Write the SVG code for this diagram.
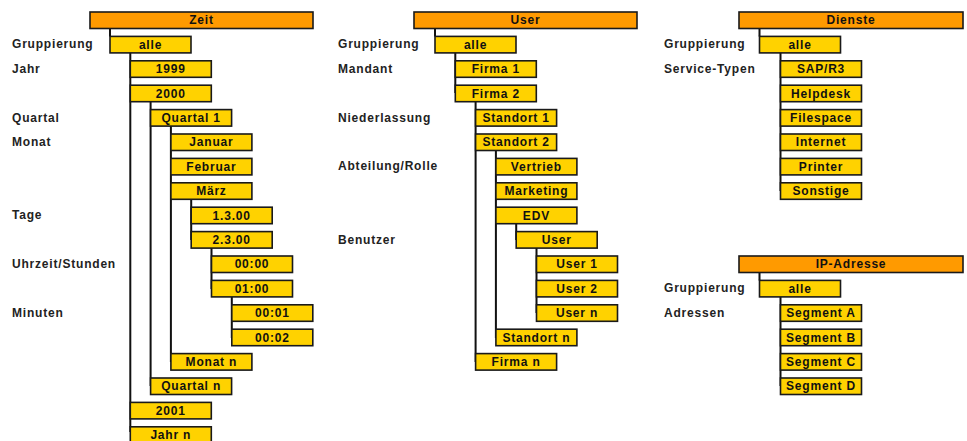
<svg xmlns="http://www.w3.org/2000/svg" width="967" height="441" viewBox="0 0 967 441">
<style>
.b{fill:#FFD200;stroke:#1a1a1a;stroke-width:1.6}
.h{fill:#FF9A00;stroke:#1a1a1a;stroke-width:1.6}
.t{font-family:"Liberation Sans",Arial,sans-serif;font-weight:bold;font-size:12px;letter-spacing:0.8px;fill:#111;text-anchor:middle}
.l{font-family:"Liberation Sans",Arial,sans-serif;font-weight:bold;font-size:12px;letter-spacing:0.8px;fill:#222}
.c{stroke:#111;stroke-width:2;fill:none}
</style>
<rect width="967" height="441" fill="#fff"/>
<g id="connectors">
<path class="c" d="M110,28.5V36.4 M130.3,52.9V432 M150.6,101.7V386 M170.9,126.1V362 M191.2,199.3V240 M211.5,248.1V289 M231.8,296.9V338"/>
<path class="c" d="M435,28.5V36.4 M455.3,52.9V93 M475.6,101.7V362 M495.9,150.5V338 M516.2,223.7V240 M536.5,248.1V313"/>
<path class="c" d="M759.5,28.5V36.4 M780.5,52.9V191 M759.5,272.5V280.4 M780.5,296.9V386"/>
</g>
<g id="labels">
<text class="l" x="12" y="48.4">Gruppierung</text>
<text class="l" x="12" y="72.8">Jahr</text>
<text class="l" x="12" y="121.6">Quartal</text>
<text class="l" x="12" y="146">Monat</text>
<text class="l" x="12" y="219.2">Tage</text>
<text class="l" x="12" y="268">Uhrzeit/Stunden</text>
<text class="l" x="12" y="316.8">Minuten</text>
<text class="l" x="338" y="48.4">Gruppierung</text>
<text class="l" x="338" y="72.8">Mandant</text>
<text class="l" x="338" y="121.6">Niederlassung</text>
<text class="l" x="338" y="170.4">Abteilung/Rolle</text>
<text class="l" x="338" y="243.6">Benutzer</text>
<text class="l" x="664" y="48.4">Gruppierung</text>
<text class="l" x="664" y="72.8">Service-Typen</text>
<text class="l" x="664" y="292.4">Gruppierung</text>
<text class="l" x="664" y="316.8">Adressen</text>
</g>
<g id="zeit"><rect class="h" x="90" y="12" width="223" height="16.5"/><text class="t" x="201.5" y="24.4">Zeit</text></g>
<g id="zeit-alle"><rect class="b" x="110" y="36.4" width="81" height="16.5"/><text class="t" x="150.5" y="48.8">alle</text></g>
<g id="z1999"><rect class="b" x="130.3" y="60.8" width="81" height="16.5"/><text class="t" x="170.8" y="73.2">1999</text></g>
<g id="z2000"><rect class="b" x="130.3" y="85.2" width="81" height="16.5"/><text class="t" x="170.8" y="97.6">2000</text></g>
<g id="quartal1"><rect class="b" x="150.6" y="109.6" width="81" height="16.5"/><text class="t" x="191.1" y="122">Quartal 1</text></g>
<g id="januar"><rect class="b" x="170.9" y="134" width="81" height="16.5"/><text class="t" x="211.4" y="146.4">Januar</text></g>
<g id="februar"><rect class="b" x="170.9" y="158.4" width="81" height="16.5"/><text class="t" x="211.4" y="170.8">Februar</text></g>
<g id="maerz"><rect class="b" x="170.9" y="182.8" width="81" height="16.5"/><text class="t" x="211.4" y="195.2">März</text></g>
<g id="d1300"><rect class="b" x="191.2" y="207.2" width="81" height="16.5"/><text class="t" x="231.7" y="219.6">1.3.00</text></g>
<g id="d2300"><rect class="b" x="191.2" y="231.6" width="81" height="16.5"/><text class="t" x="231.7" y="244">2.3.00</text></g>
<g id="h0000"><rect class="b" x="211.5" y="256" width="81" height="16.5"/><text class="t" x="252" y="268.4">00:00</text></g>
<g id="h0100"><rect class="b" x="211.5" y="280.4" width="81" height="16.5"/><text class="t" x="252" y="292.8">01:00</text></g>
<g id="m0001"><rect class="b" x="231.8" y="304.8" width="81" height="16.5"/><text class="t" x="272.3" y="317.2">00:01</text></g>
<g id="m0002"><rect class="b" x="231.8" y="329.2" width="81" height="16.5"/><text class="t" x="272.3" y="341.6">00:02</text></g>
<g id="monatn"><rect class="b" x="170.9" y="353.6" width="81" height="16.5"/><text class="t" x="211.4" y="366">Monat n</text></g>
<g id="quartaln"><rect class="b" x="150.6" y="378" width="81" height="16.5"/><text class="t" x="191.1" y="390.4">Quartal n</text></g>
<g id="z2001"><rect class="b" x="130.3" y="402.4" width="81" height="16.5"/><text class="t" x="170.8" y="414.8">2001</text></g>
<g id="jahrn"><rect class="b" x="130.3" y="426.8" width="81" height="16.5"/><text class="t" x="170.8" y="439.2">Jahr n</text></g>

<g id="user"><rect class="h" x="414" y="12" width="223" height="16.5"/><text class="t" x="525.5" y="24.4">User</text></g>
<g id="user-alle"><rect class="b" x="435" y="36.4" width="81" height="16.5"/><text class="t" x="475.5" y="48.8">alle</text></g>
<g id="firma1"><rect class="b" x="455.3" y="60.8" width="81" height="16.5"/><text class="t" x="495.8" y="73.2">Firma 1</text></g>
<g id="firma2"><rect class="b" x="455.3" y="85.2" width="81" height="16.5"/><text class="t" x="495.8" y="97.6">Firma 2</text></g>
<g id="standort1"><rect class="b" x="475.6" y="109.6" width="81" height="16.5"/><text class="t" x="516.1" y="122">Standort 1</text></g>
<g id="standort2"><rect class="b" x="475.6" y="134" width="81" height="16.5"/><text class="t" x="516.1" y="146.4">Standort 2</text></g>
<g id="vertrieb"><rect class="b" x="495.9" y="158.4" width="81" height="16.5"/><text class="t" x="536.4" y="170.8">Vertrieb</text></g>
<g id="marketing"><rect class="b" x="495.9" y="182.8" width="81" height="16.5"/><text class="t" x="536.4" y="195.2">Marketing</text></g>
<g id="edv"><rect class="b" x="495.9" y="207.2" width="81" height="16.5"/><text class="t" x="536.4" y="219.6">EDV</text></g>
<g id="usergrp"><rect class="b" x="516.2" y="231.6" width="81" height="16.5"/><text class="t" x="556.7" y="244">User</text></g>
<g id="user1"><rect class="b" x="536.5" y="256" width="81" height="16.5"/><text class="t" x="577" y="268.4">User 1</text></g>
<g id="user2"><rect class="b" x="536.5" y="280.4" width="81" height="16.5"/><text class="t" x="577" y="292.8">User 2</text></g>
<g id="usern"><rect class="b" x="536.5" y="304.8" width="81" height="16.5"/><text class="t" x="577" y="317.2">User n</text></g>
<g id="standortn"><rect class="b" x="495.9" y="329.2" width="81" height="16.5"/><text class="t" x="536.4" y="341.6">Standort n</text></g>
<g id="firman"><rect class="b" x="475.6" y="353.6" width="81" height="16.5"/><text class="t" x="516.1" y="366">Firma n</text></g>

<g id="dienste"><rect class="h" x="739" y="12" width="224" height="16.5"/><text class="t" x="851" y="24.4">Dienste</text></g>
<g id="dienste-alle"><rect class="b" x="759.5" y="36.4" width="81" height="16.5"/><text class="t" x="800" y="48.8">alle</text></g>
<g id="sap"><rect class="b" x="780.5" y="60.8" width="81" height="16.5"/><text class="t" x="821" y="73.2">SAP/R3</text></g>
<g id="helpdesk"><rect class="b" x="780.5" y="85.2" width="81" height="16.5"/><text class="t" x="821" y="97.6">Helpdesk</text></g>
<g id="filespace"><rect class="b" x="780.5" y="109.6" width="81" height="16.5"/><text class="t" x="821" y="122">Filespace</text></g>
<g id="internet"><rect class="b" x="780.5" y="134" width="81" height="16.5"/><text class="t" x="821" y="146.4">Internet</text></g>
<g id="printer"><rect class="b" x="780.5" y="158.4" width="81" height="16.5"/><text class="t" x="821" y="170.8">Printer</text></g>
<g id="sonstige"><rect class="b" x="780.5" y="182.8" width="81" height="16.5"/><text class="t" x="821" y="195.2">Sonstige</text></g>

<g id="ip"><rect class="h" x="739" y="256" width="224" height="16.5"/><text class="t" x="851" y="268.4">IP-Adresse</text></g>
<g id="ip-alle"><rect class="b" x="759.5" y="280.4" width="81" height="16.5"/><text class="t" x="800" y="292.8">alle</text></g>
<g id="sega"><rect class="b" x="780.5" y="304.8" width="81" height="16.5"/><text class="t" x="821" y="317.2">Segment A</text></g>
<g id="segb"><rect class="b" x="780.5" y="329.2" width="81" height="16.5"/><text class="t" x="821" y="341.6">Segment B</text></g>
<g id="segc"><rect class="b" x="780.5" y="353.6" width="81" height="16.5"/><text class="t" x="821" y="366">Segment C</text></g>
<g id="segd"><rect class="b" x="780.5" y="378" width="81" height="16.5"/><text class="t" x="821" y="390.4">Segment D</text></g>
</svg>
